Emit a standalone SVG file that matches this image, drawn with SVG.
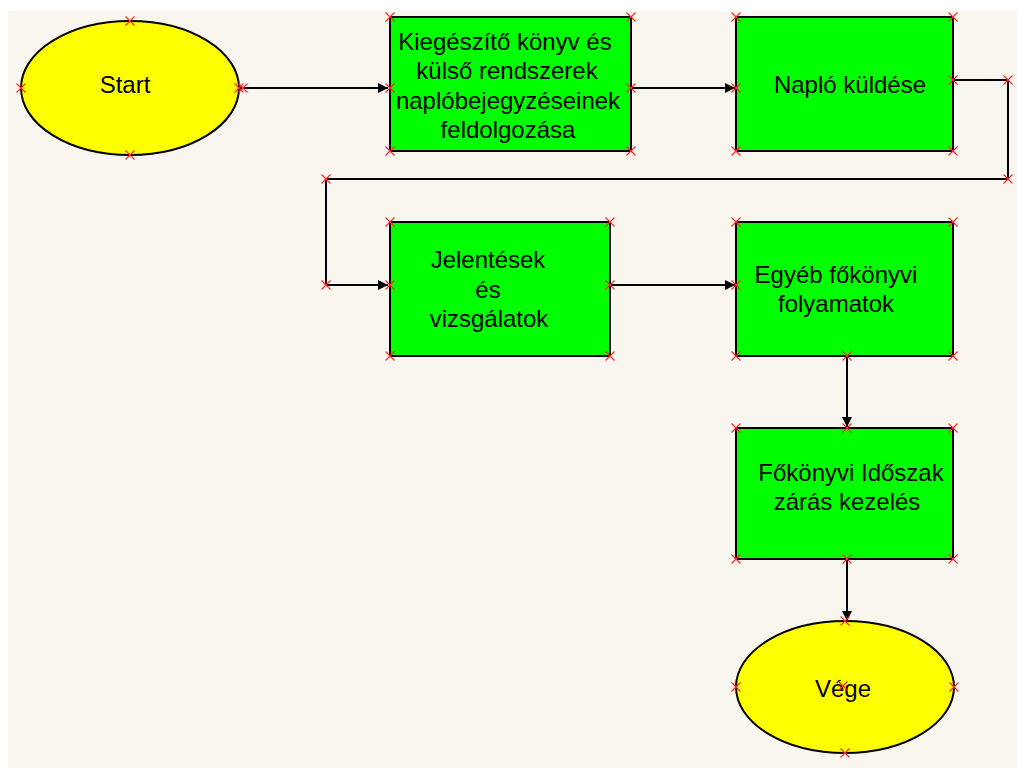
<svg xmlns="http://www.w3.org/2000/svg" width="1017" height="768" viewBox="0 0 1017 768">
  <style>
    .bg { fill: #f9f6ef; }
    .proc { fill: #00ff00; stroke: #000; stroke-width: 2; }
    .term { fill: #ffff00; stroke: #000; stroke-width: 2; }
    .lbl { font-family: "Liberation Sans", Arial, sans-serif; font-size: 24px; fill: #000; text-anchor: middle; }
    .conn { fill: none; stroke: #000; stroke-width: 2; }
    .pt { stroke: #ff2a2a; stroke-width: 1.2; fill: none; }
  </style>
  <defs>
    <marker id="arrow" markerUnits="userSpaceOnUse" markerWidth="12" markerHeight="12" refX="10" refY="5" orient="auto">
      <path d="M0,0 L10,5 L0,10 Z" fill="#000"/>
    </marker>
    <!-- small red cross used for connection points -->
    <path id="x" class="pt" d="M-4.5,-4.5 L4.5,4.5 M-4.5,4.5 L4.5,-4.5"/>
  </defs>

  <rect width="1017" height="768" fill="#ffffff"/>
  <rect class="bg" x="8" y="11" width="1009" height="757"/>

  <g id="connectors">
    <line class="conn" x1="239" y1="88" x2="388" y2="88" marker-end="url(#arrow)"/>
    <line class="conn" x1="631" y1="88" x2="735" y2="88" marker-end="url(#arrow)"/>
    <polyline class="conn" points="953,80 1008,80 1008,179 326,179 326,285 388,285" marker-end="url(#arrow)"/>
    <line class="conn" x1="610" y1="285" x2="735" y2="285" marker-end="url(#arrow)"/>
    <line class="conn" x1="847" y1="356" x2="847" y2="427" marker-end="url(#arrow)"/>
    <line class="conn" x1="847" y1="559" x2="847" y2="621" marker-end="url(#arrow)"/>
  </g>

  <g id="start">
    <ellipse class="term" cx="130" cy="88" rx="109" ry="67"/>
    <text class="lbl" x="125" y="93">Start</text>
  </g>

  <g id="feldolgozas">
    <rect class="proc" x="390" y="17" width="241" height="134"/>
    <text class="lbl" x="505" y="50">Kiegészítő könyv és</text>
    <text class="lbl" x="507" y="79">külső rendszerek</text>
    <text class="lbl" x="508" y="109">naplóbejegyzéseinek</text>
    <text class="lbl" x="508" y="138">feldolgozása</text>
  </g>

  <g id="naplo">
    <rect class="proc" x="736" y="17" width="217" height="134"/>
    <text class="lbl" x="850" y="93">Napló küldése</text>
  </g>

  <g id="jelentesek">
    <rect class="proc" x="390" y="222" width="220" height="134"/>
    <text class="lbl" x="488" y="268">Jelentések</text>
    <text class="lbl" x="488" y="298">és</text>
    <text class="lbl" x="489" y="327">vizsgálatok</text>
  </g>

  <g id="egyeb">
    <rect class="proc" x="736" y="222" width="217" height="134"/>
    <text class="lbl" x="836" y="283">Egyéb főkönyvi</text>
    <text class="lbl" x="836" y="312">folyamatok</text>
  </g>

  <g id="idoszak">
    <rect class="proc" x="736" y="428" width="217" height="131"/>
    <text class="lbl" x="851" y="481">Főkönyvi Időszak</text>
    <text class="lbl" x="847" y="510">zárás kezelés</text>
  </g>

  <g id="vege">
    <ellipse class="term" cx="845" cy="687" rx="109" ry="66"/>
    <text class="lbl" x="843" y="697">Vége</text>
  </g>

  <g id="points">
    <use href="#x" x="130" y="21"/><use href="#x" x="130" y="155"/><use href="#x" x="21" y="88"/><use href="#x" x="239" y="88"/><use href="#x" x="243" y="88"/>
    <use href="#x" x="390" y="17"/><use href="#x" x="631" y="17"/><use href="#x" x="390" y="151"/><use href="#x" x="631" y="151"/><use href="#x" x="390" y="88"/><use href="#x" x="631" y="88"/>
    <use href="#x" x="736" y="17"/><use href="#x" x="953" y="17"/><use href="#x" x="736" y="151"/><use href="#x" x="953" y="151"/><use href="#x" x="736" y="88"/><use href="#x" x="953" y="80"/>
    <use href="#x" x="1008" y="80"/><use href="#x" x="1008" y="179"/><use href="#x" x="326" y="179"/><use href="#x" x="326" y="285"/>
    <use href="#x" x="390" y="222"/><use href="#x" x="610" y="222"/><use href="#x" x="390" y="356"/><use href="#x" x="610" y="356"/><use href="#x" x="390" y="285"/><use href="#x" x="610" y="285"/>
    <use href="#x" x="736" y="222"/><use href="#x" x="953" y="222"/><use href="#x" x="736" y="356"/><use href="#x" x="953" y="356"/><use href="#x" x="736" y="285"/><use href="#x" x="847" y="356"/>
    <use href="#x" x="736" y="428"/><use href="#x" x="953" y="428"/><use href="#x" x="736" y="559"/><use href="#x" x="953" y="559"/><use href="#x" x="847" y="428"/><use href="#x" x="847" y="559"/>
    <use href="#x" x="845" y="621"/><use href="#x" x="736" y="687"/><use href="#x" x="954" y="687"/><use href="#x" x="845" y="753"/><use href="#x" x="843" y="686"/>
  </g>
</svg>
